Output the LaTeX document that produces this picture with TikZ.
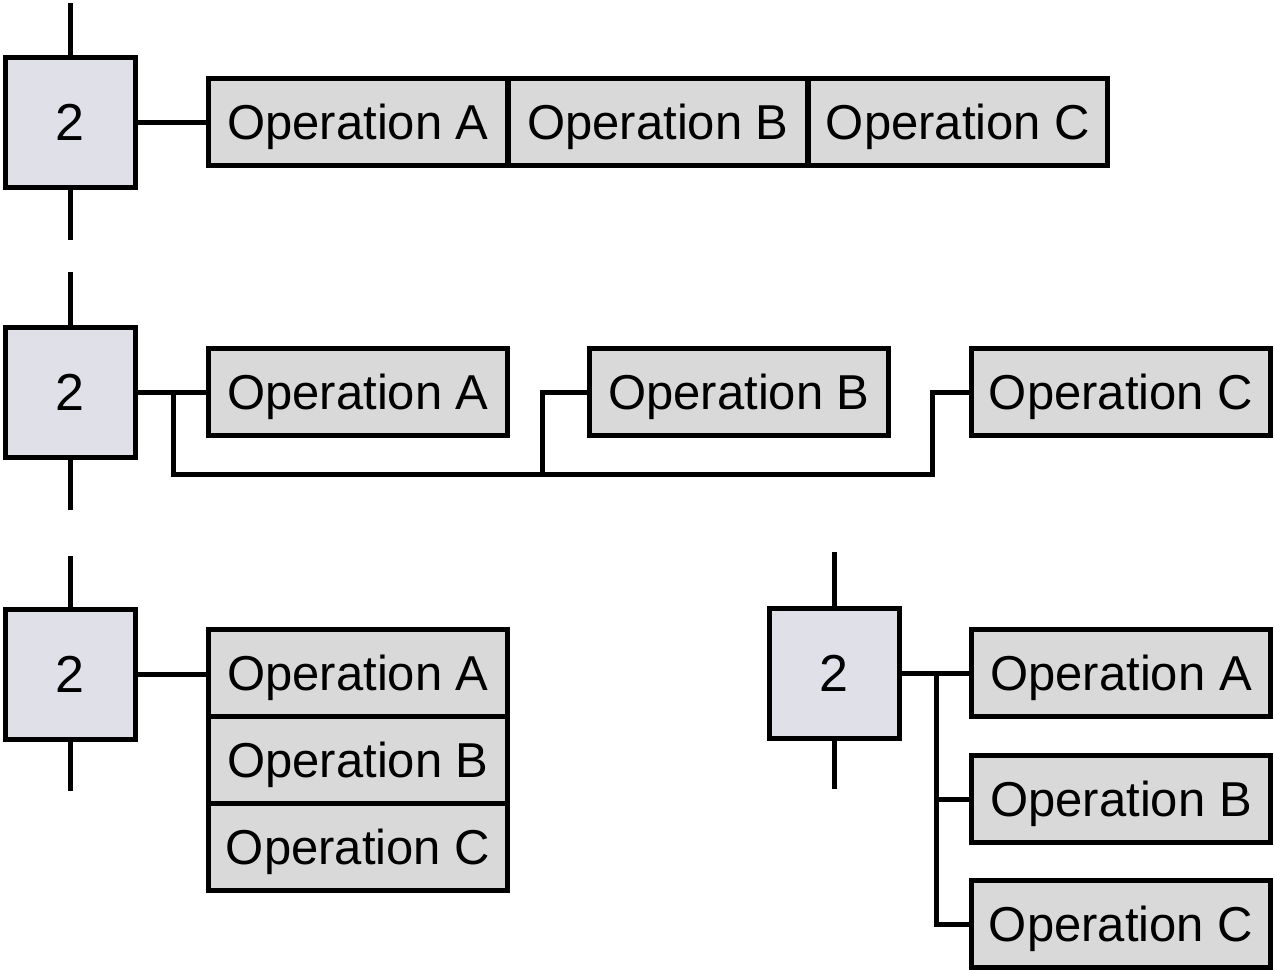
\documentclass[tikz,border=0pt]{standalone}
\usepackage{fontspec}
\setmainfont{Liberation Sans}
\definecolor{stepfill}{HTML}{E0E0E8}
\definecolor{opfill}{HTML}{D9D9D9}
\begin{document}
\begin{tikzpicture}[x=1pt,y=-1pt,
  every node/.style={font=\fontsize{49}{55}\selectfont, inner sep=0pt, outer sep=0pt, text depth=0pt},
  stepbox/.style={draw, line width=5pt, fill=stepfill, minimum width=130pt, minimum height=130pt, font=\fontsize{52}{58}\selectfont},
  opbox/.style={draw, line width=5pt, fill=opfill, minimum width=299pt, minimum height=87pt},
  wire/.style={line width=5pt, line cap=butt, line join=miter}]
\useasboundingbox (0,0) rectangle (1274,969);
% Row 1
\node[stepbox] (s1) at (70,122) {2};
\node[opbox] (a1) at (358,122) {Operation A};
\node[opbox] (b1) at (658,122) {Operation B};
\node[opbox] (c1) at (958,122) {Operation C};
\coordinate (s1t) at (70,3);
\coordinate (s1b) at (70,240);
\draw[wire] (s1t) -- (s1.north);
\draw[wire] (s1.south) -- (s1b);
\draw[wire] (s1.east) -- (a1.west);
% Row 2
\node[stepbox] (s2) at (70,392) {2};
\node[opbox] (a2) at (358,392) {Operation A};
\node[opbox] (b2) at (739,392) {Operation B};
\node[opbox] (c2) at (1121,392) {Operation C};
\coordinate (s2t) at (70,272);
\coordinate (s2b) at (70,510);
\draw[wire] (s2t) -- (s2.north);
\draw[wire] (s2.south) -- (s2b);
\draw[wire] (s2.east) -- (a2.west);
\coordinate (j0) at (173,392);
\coordinate (j1) at (173,474);
\coordinate (j2) at (542,474);
\coordinate (j3) at (932,474);
\draw[wire] (j0) -- (j1) -- (j3) |- (c2.west);
\draw[wire] (j2) |- (b2.west);
% Row 3 left
\node[stepbox] (s3) at (70,674) {2};
\node[opbox] (a3) at (358,673) {Operation A};
\node[opbox] (b3) at (358,760) {Operation B};
\node[opbox] (c3) at (358,847) {Operation C};
\coordinate (s3t) at (70,556);
\coordinate (s3b) at (70,791);
\draw[wire] (s3t) -- (s3.north);
\draw[wire] (s3.south) -- (s3b);
\draw[wire] (s3.east) -- (s3.east -| a3.west);
% Row 3 right
\node[stepbox] (s4) at (834,673) {2};
\node[opbox] (a4) at (1121,673) {Operation A};
\node[opbox] (b4) at (1121,799) {Operation B};
\node[opbox] (c4) at (1121,924) {Operation C};
\coordinate (s4t) at (834,552);
\coordinate (s4b) at (834,789);
\coordinate (k0) at (936,673);
\draw[wire] (s4t) -- (s4.north);
\draw[wire] (s4.south) -- (s4b);
\draw[wire] (s4.east) -- (a4.west);
\draw[wire] (k0) |- (c4.west);
\draw[wire] (k0 |- b4.west) -- (b4.west);
\end{tikzpicture}
\end{document}
